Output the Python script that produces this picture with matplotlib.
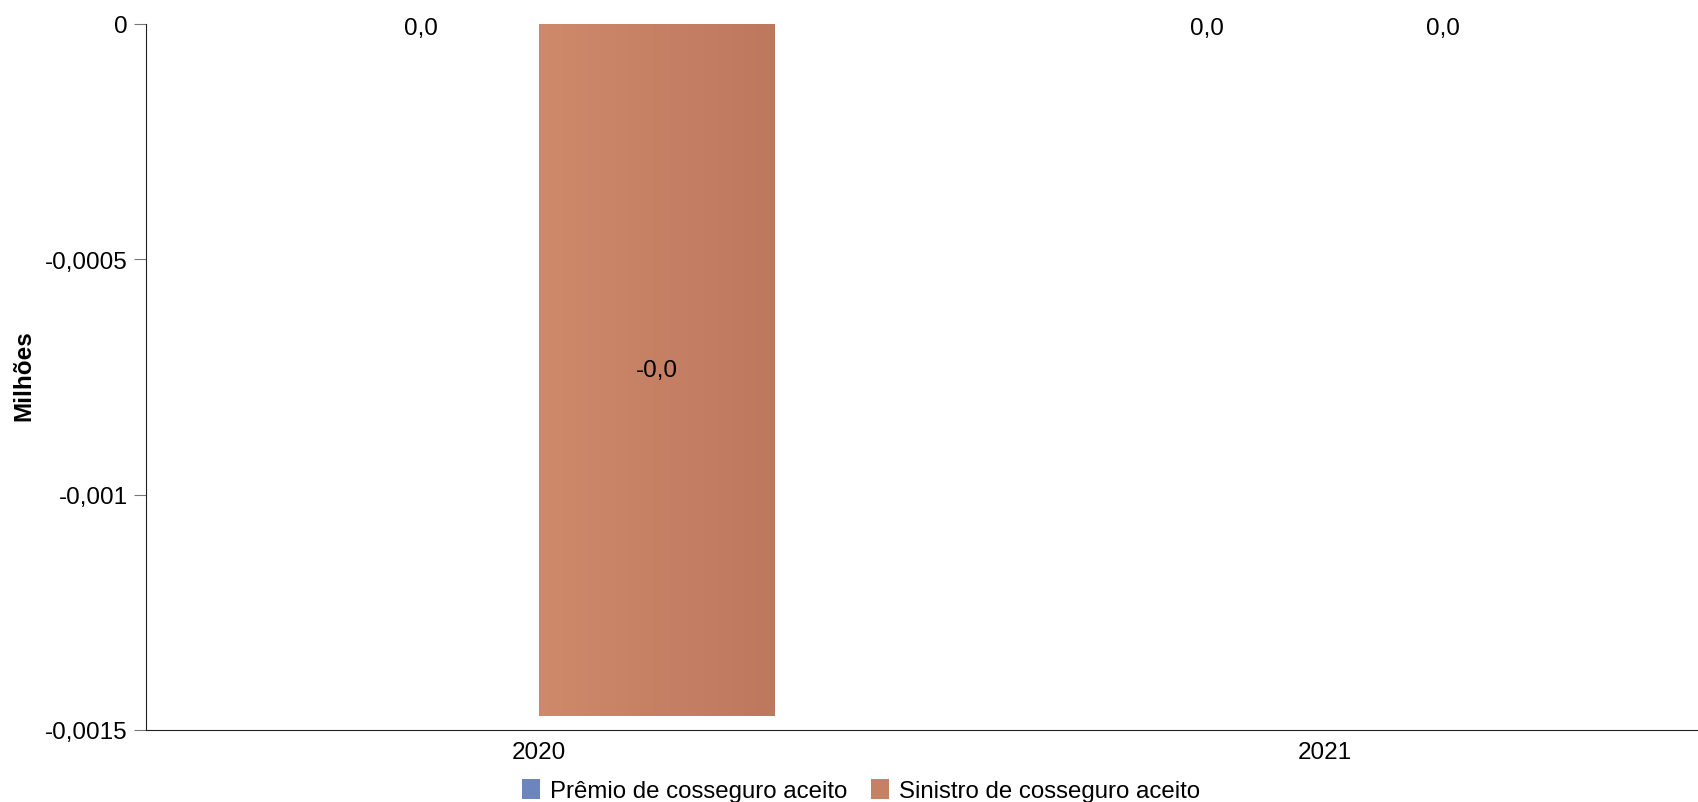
import matplotlib
matplotlib.use("Agg")

import matplotlib.pyplot as plt
import numpy as np
from matplotlib.colors import LinearSegmentedColormap
from matplotlib.patches import Patch

plt.rcParams["font.family"] = ["Liberation Sans", "DejaVu Sans"]

years = ["2020", "2021"]
series_names = ["Prêmio de cosseguro aceito", "Sinistro de cosseguro aceito"]
premio = [0.0, 0.0]
sinistro = [-0.00147, 0.0]
y_ticks = [0, -0.0005, -0.001, -0.0015]
y_tick_labels = ["0", "-0,0005", "-0,001", "-0,0015"]

gradients = [((0.49, 0.58, 0.80), (0.36, 0.46, 0.70)),
             ((0.81, 0.54, 0.42), (0.74, 0.47, 0.37))]

FS = 17.5


def fmt(v):
    return f"{v:.1f}".replace(".", ",")


fig = plt.figure(figsize=(16.98, 8.03), dpi=100)
# o eixo x passa da borda direita, como no original
ax = fig.add_axes([0.086, 0.0897, 0.926, 0.8797])

x = np.arange(len(years))
width = 0.30
offsets = [-width / 2, width / 2]

for series, values, off, (c0, c1) in zip(series_names, [premio, sinistro], offsets, gradients):
    cmap = LinearSegmentedColormap.from_list(series, [c0, c1])
    bars = ax.bar(x + off, values, width=width, color=c0, edgecolor="none")
    for bar, v in zip(bars, values):
        cx = bar.get_x() + bar.get_width() / 2
        if v != 0:
            x0 = bar.get_x()
            grad = np.linspace(0, 1, 256).reshape(1, -1)
            im = ax.imshow(grad, cmap=cmap, aspect="auto",
                           extent=(x0, x0 + bar.get_width(), v, 0), zorder=2)
            im.set_clip_path(bar)
            ax.text(cx, v / 2, fmt(v), ha="center", va="center",
                    fontsize=FS, zorder=3)
        else:
            ax.annotate(fmt(v), (cx, 0), xytext=(0, -4), textcoords="offset pixels",
                        ha="center", va="center", fontsize=FS, zorder=3)

ax.set_xlim(-0.5, 1.5)
ax.set_ylim(-0.0015, 0)
ax.set_xticks(x)
ax.set_xticklabels(years, fontsize=FS)
ax.tick_params(axis="x", length=0, pad=8)
ax.set_yticks(y_ticks)
ax.set_yticklabels(y_tick_labels, fontsize=FS)
ax.tick_params(axis="y", length=9, color="#777777", pad=4)
ax.spines["top"].set_visible(False)
ax.spines["right"].set_visible(False)
ax.spines["left"].set_color("#222222")
ax.spines["bottom"].set_color("#222222")

fig.text(0.014, 0.532, "Milhões", rotation=90, ha="center", va="center",
         fontsize=FS, fontweight="bold")

handles = [Patch(facecolor=((a[0] + b[0]) / 2, (a[1] + b[1]) / 2, (a[2] + b[2]) / 2),
                 edgecolor="none") for a, b in gradients]
fig.legend(handles, series_names, loc="lower center", bbox_to_anchor=(0.507, -0.027),
           ncol=2, frameon=False, fontsize=17.3, handlelength=0.75, handleheight=0.9,
           handletextpad=0.4, columnspacing=1.0)

fig.savefig("out.png", dpi=100)
